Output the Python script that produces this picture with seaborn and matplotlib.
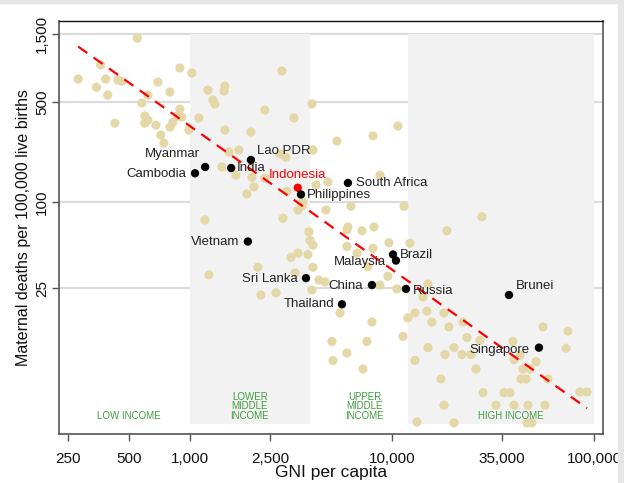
import numpy as np
import pandas as pd
import seaborn as sns
import matplotlib.pyplot as plt
from matplotlib.patches import Rectangle
from matplotlib.ticker import FixedLocator, NullLocator

# Alle übrigen Länder: GNI pro Kopf (US$) und Müttersterblichkeit (je 100.000 Lebendgeburten)
gni_other = [550, 280, 345, 362, 383, 392, 440, 460, 425, 578, 619, 694, 796, 892,
             598, 619, 598, 679, 718, 743, 796, 824, 892, 872, 912, 988,
             1023, 1108, 1228, 1300, 1330, 1474, 1491, 1491, 1560, 1748, 1440, 1690,
             1187, 2854, 2352, 3274, 4018, 2005, 4066, 2790, 2988, 2028, 2352, 2075,
             1915, 3022, 4207, 3424, 3586, 3628, 2888, 1242, 2170, 2247, 2667, 3163,
             3424, 3838, 4066, 3311, 4018, 4352, 3884, 3928, 4066,
             4820, 5342, 8055, 10700, 8723, 4714, 6270, 11470, 6055, 5990, 7105, 8150,
             9665, 12280, 5990, 6712, 8055, 8723, 9552, 10590, 7605, 4662, 5530, 7962,
             5046, 5990, 7521, 5106, 7188, 11340, 12000, 13000, 13300,
             27900, 18710, 15070, 14240, 13000, 14900, 15770, 18090, 19150, 22470,
             23510, 15070, 20280, 18300, 22210, 24610, 27270, 39720, 43010, 40180,
             44520, 48200, 51620, 55910, 74300, 72670, 59150, 43500, 46060, 17480,
             26060, 28220, 35860, 38380, 85220, 92290, 18090, 32730, 40180, 47100,
             57210, 20280, 46580, 49310]
mmr_other = [1400, 725, 635, 910, 725, 560, 713, 700, 356, 493, 560, 690, 588, 865,
             400, 374, 356, 345, 294, 258, 334, 362, 447, 400, 393, 319,
             799, 387, 607, 517, 485, 597, 647, 319, 224, 231, 176, 154,
             75, 825, 440, 387, 485, 309, 231, 217, 206, 149, 147, 128,
             114, 119, 132, 88, 94, 100, 77, 31, 35, 22.4, 23.2, 41,
             44, 43, 35, 32, 24.3, 28.5, 62, 54, 50,
             138, 267, 290, 340, 154, 88, 93.5, 93.5, 67, 64, 63, 67,
             52, 51.5, 49, 44, 47.5, 26.3, 30.3, 24.7, 35.4, 27.6, 16.8, 14.5,
             10.6, 8.8, 10.6, 7.8, 6.8, 11.5, 15.5, 7.8, 2.9,
             79, 63, 26.7, 21.7, 16.8, 17.3, 14.5, 16.8, 13.4, 14.5,
             11.3, 9.6, 9.6, 8.6, 8.6, 8.6, 10.8, 10.6, 8.5, 7.9,
             6.8, 6.8, 7.65, 13.4, 12.5, 9.5, 5.8, 5.8, 5.8, 5.8,
             6.8, 4.65, 4.65, 4.65, 4.7, 4.7, 3.8, 3.8, 3.8, 3.8,
             3.8, 2.86, 2.86, 2.86]

# Hervorgehobene Länder
countries = ['Myanmar', 'Cambodia', 'India', 'Lao PDR', 'Indonesia', 'Philippines',
             'South Africa', 'Vietnam', 'Sri Lanka', 'Thailand', 'China', 'Brazil',
             'Malaysia', 'Russia', 'Brunei', 'Singapore']
gni_countries = [1190, 1060, 1600, 2005, 3420, 3545, 6055, 1936, 3754, 5657, 7962,
                 10120, 10470, 11730, 37950, 53400]
mmr_countries = [176, 159, 173, 197, 126, 113, 136, 53, 29.4, 19.3, 26.3, 43, 39,
                 24.7, 22.4, 9.6]
highlight = 'Indonesia'

# Trendlinie im Original (log10 MMR = Achsenabschnitt + Steigung * log10 GNI)
fit_intercept = 5.544
fit_slope = -1.004

# Einkommensgruppen (Schattierung und Beschriftung)
income_names = ['LOW INCOME', 'LOWER\nMIDDLE\nINCOME', 'UPPER\nMIDDLE\nINCOME', 'HIGH INCOME']
income_centers = [500, 1980, 7350, 38800]
shaded_bands = [(1000, 3925), (12000, 100000)]
band_bottom, band_top = 2.8, 1500

x_ticks = [250, 500, 1000, 2500, 10000, 35000, 100000]
y_ticks = [25, 100, 500, 1500]

# ---------------------------------------------------------------------------
sns.set_theme(style='white')
plt.rcParams['font.family'] = ['Liberation Sans', 'DejaVu Sans']

beige = '#e5d8a8'
green = '#3f9e3f'

fig = plt.figure(figsize=(6.24, 4.83), dpi=100)
ax = fig.add_axes([59 / 624, 1 - 434 / 483, 544 / 624, 413 / 483])
ax.set_xscale('log')
ax.set_yscale('log')
ax.set_xlim(225, 110800)
ax.set_ylim(2.39, 1845)

# Gitterlinien (werden von den Schattierungen überdeckt)
for yt in y_ticks:
    ax.axhline(yt, color='#dcdcdc', lw=1.6, zorder=0)
for lo, hi in shaded_bands:
    ax.fill_between([lo, hi], band_bottom, band_top, color='#f2f2f2', lw=0, zorder=1)

df_other = pd.DataFrame({'gni': gni_other, 'mmr': mmr_other})
df_c = pd.DataFrame({'country': countries, 'gni': gni_countries, 'mmr': mmr_countries})

sns.scatterplot(data=df_other, x='gni', y='mmr', color=beige, s=44, edgecolor='none',
                ax=ax, zorder=3, legend=False)

# Trendlinie über die Spannweite der Daten
all_x = np.log10(np.concatenate([gni_other, gni_countries]))
xs = np.linspace(all_x.min(), all_x.max(), 50)
fit = pd.DataFrame({'gni': 10 ** xs, 'mmr': 10 ** (fit_intercept + fit_slope * xs)})
sns.lineplot(data=fit, x='gni', y='mmr', color='#ff0000', lw=1.6, ax=ax, zorder=4)
ax.lines[-1].set_dashes([5, 3.5])

dot_colors = ['#ff0000' if c == highlight else 'black' for c in countries]
ax.scatter(df_c['gni'], df_c['mmr'], c=dot_colors, s=36, edgecolor='none', zorder=5)

# Beschriftungen (Versatz in Punkten, Ausrichtung)
label_pos = {
    'Myanmar': (-3.6, 9.4, 'right'), 'Cambodia': (-6.5, -0.7, 'right'),
    'India': (4.3, 0, 'left'), 'Lao PDR': (4.3, 6.5, 'left'),
    'Indonesia': (0, 9.4, 'center'), 'Philippines': (4.3, -0.5, 'left'),
    'South Africa': (5.8, 0, 'left'), 'Vietnam': (-6.5, -0.5, 'right'),
    'Sri Lanka': (-5.8, -0.5, 'right'), 'Thailand': (-5.8, 0, 'right'),
    'China': (-6.5, -0.5, 'right'), 'Brazil': (5, -0.5, 'left'),
    'Malaysia': (-7.2, -0.8, 'right'), 'Russia': (5, -1.4, 'left'),
    'Brunei': (5, 6.5, 'left'), 'Singapore': (-6.5, -1.4, 'right'),
}
for c, gx, gy, col in zip(countries, gni_countries, mmr_countries, dot_colors):
    dx, dy, ha = label_pos[c]
    ax.annotate(c, (gx, gy), xytext=(dx, dy), textcoords='offset points',
                ha=ha, va='center', fontsize=9.5,
                color=col if c == highlight else '#222222', zorder=6)

for name, xc in zip(income_names, income_centers):
    ax.text(xc, 2.95, name, ha='center', va='bottom', fontsize=7, color=green,
            linespacing=0.95, zorder=6)

ax.xaxis.set_major_locator(FixedLocator(x_ticks))
ax.xaxis.set_minor_locator(NullLocator())
ax.set_xticklabels([f'{v:,}' for v in x_ticks])
ax.yaxis.set_major_locator(FixedLocator(y_ticks))
ax.yaxis.set_minor_locator(NullLocator())
ax.set_yticklabels([f'{v:,}' for v in y_ticks], rotation=90, va='center')
ax.tick_params(axis='both', which='major', direction='out', length=5, width=1,
               color='#555555', labelsize=11, labelcolor='#111111',
               bottom=True, left=True)
ax.tick_params(axis='x', pad=8)
ax.tick_params(axis='y', pad=2)

for side in ['left', 'bottom', 'right']:
    ax.spines[side].set_color('#555555')
    ax.spines[side].set_linewidth(1.2)
ax.spines['top'].set_color('#111111')
ax.spines['top'].set_linewidth(1.0)

ax.set_xlabel('GNI per capita', fontsize=12.5, color='#111111', labelpad=-1)
ax.set_ylabel('Maternal deaths per 100,000 live births', fontsize=11.5, color='#111111')
ax.yaxis.set_label_coords(-0.052, 0.5)

# heller Rahmen rechts und oben wie im Original
fig.patches.append(Rectangle((618 / 624, 0), 6 / 624, 1, transform=fig.transFigure,
                             color='#e6e6e6', zorder=0))
fig.patches.append(Rectangle((0, 1 - 3 / 483), 1, 3 / 483, transform=fig.transFigure,
                             color='#e6e6e6', zorder=0))

fig.savefig('out.png', dpi=100)
